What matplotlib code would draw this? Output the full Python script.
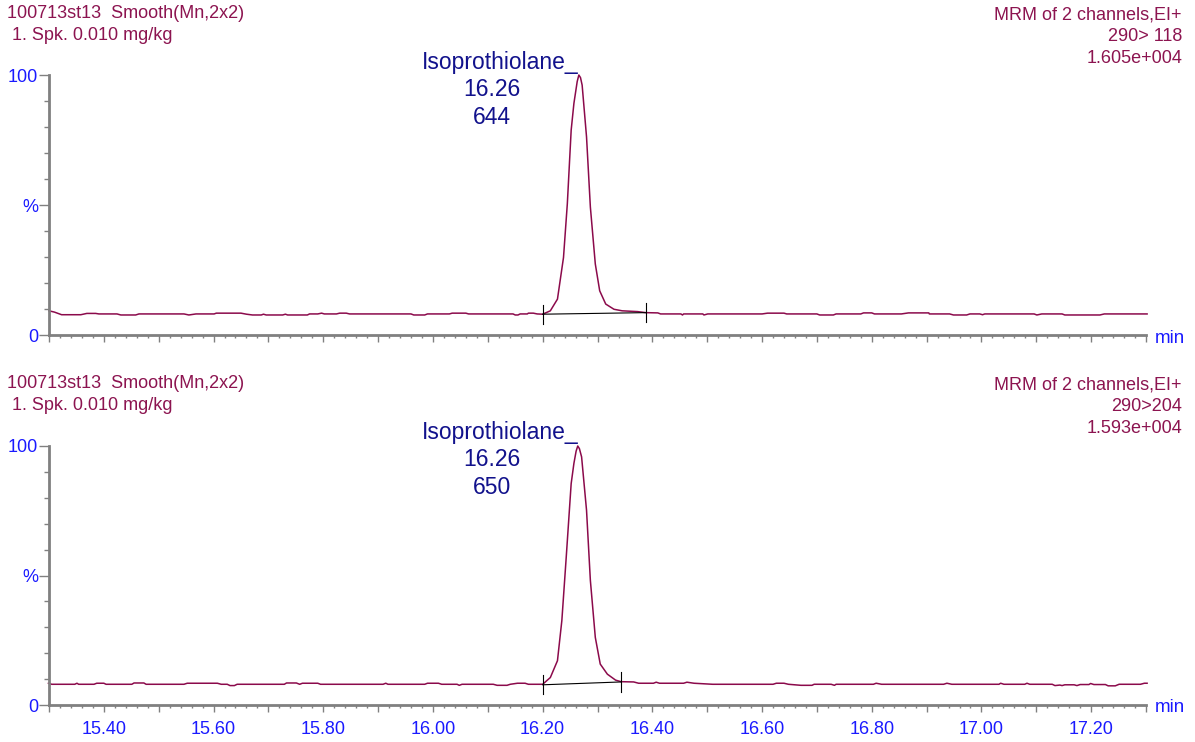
import matplotlib
matplotlib.use("Agg")
import matplotlib.pyplot as plt
from matplotlib.ticker import FixedLocator, MultipleLocator, FuncFormatter

plt.rcParams['font.family'] = ['Liberation Sans', 'DejaVu Sans']

t_118 = [15.300, 15.310, 15.323, 15.358, 15.369, 15.385, 15.391, 15.424, 15.431, 15.458,
         15.464, 15.546, 15.555, 15.568, 15.601, 15.605, 15.650, 15.660, 15.671, 15.687,
         15.691, 15.696, 15.726, 15.731, 15.735, 15.771, 15.775, 15.790, 15.797, 15.802,
         15.824, 15.830, 15.842, 15.848, 15.960, 15.965, 15.985, 15.990, 16.030, 16.035,
         16.060, 16.065, 16.146, 16.150, 16.155, 16.159, 16.172, 16.174, 16.183, 16.190,
         16.200, 16.214, 16.227, 16.238, 16.245, 16.252, 16.257, 16.263, 16.266, 16.269,
         16.272, 16.280,
         16.287, 16.296, 16.304, 16.315, 16.330, 16.345, 16.373, 16.388, 16.410, 16.415,
         16.452, 16.455, 16.457, 16.492, 16.494, 16.501, 16.600, 16.610, 16.640, 16.645,
         16.700, 16.705, 16.730, 16.735, 16.780, 16.785, 16.800, 16.805, 16.854, 16.867,
         16.904, 16.905, 16.942, 16.949, 16.973, 16.979, 16.997, 17.002, 17.006, 17.096,
         17.101, 17.110, 17.147, 17.152, 17.216, 17.224, 17.302]
i_118 = [9.3, 8.8, 7.8, 7.8, 8.3, 8.3, 8.1, 8.1, 7.7, 7.7,
         8.1, 8.1, 7.7, 8.1, 8.1, 8.4, 8.4, 8.0, 7.7, 7.7,
         8.0, 7.7, 7.7, 8.0, 7.7, 7.7, 8.1, 8.1, 8.4, 8.1,
         8.1, 8.4, 8.4, 8.1, 8.1, 7.7, 7.7, 8.1, 8.1, 8.4,
         8.4, 8.1, 8.1, 7.7, 7.7, 8.1, 8.1, 8.4, 8.4, 8.1,
         8.0, 9.3, 13.8, 29.8, 50.5, 78.8, 89.1, 97.5, 100.0, 99.0,
         96.1, 76.2,
         49.2, 27.3, 17.0, 11.9, 9.9, 9.3, 9.0, 8.6, 8.5, 8.1,
         8.1, 7.7, 8.1, 8.1, 7.7, 8.1, 8.1, 8.4, 8.4, 8.1,
         8.1, 7.7, 7.7, 8.1, 8.1, 8.5, 8.5, 8.1, 8.1, 8.5,
         8.5, 8.1, 8.1, 7.7, 7.7, 8.1, 8.1, 7.8, 8.1, 8.1,
         7.7, 8.1, 8.1, 7.7, 7.7, 8.1, 8.1]

t_204 = [15.299, 15.305, 15.347, 15.351, 15.354, 15.382, 15.387, 15.400, 15.404, 15.451,
         15.455, 15.473, 15.477, 15.546, 15.552, 15.607, 15.614, 15.625, 15.630, 15.638,
         15.643, 15.729, 15.733, 15.751, 15.757, 15.762, 15.790, 15.795, 15.909, 15.914,
         15.918, 15.985, 15.990, 16.010, 16.016, 16.044, 16.048, 16.053, 16.110, 16.117,
         16.135, 16.141, 16.154, 16.168, 16.174, 16.200, 16.214, 16.227, 16.235, 16.243,
         16.252, 16.257, 16.261, 16.264, 16.267, 16.271, 16.280, 16.287, 16.296, 16.305,
         16.318, 16.333,
         16.343, 16.366, 16.375, 16.402, 16.407, 16.413, 16.457, 16.463, 16.476, 16.510,
         16.620, 16.626, 16.640, 16.648, 16.671, 16.691, 16.695, 16.726, 16.732, 16.735,
         16.803, 16.808, 16.818, 16.931, 16.937, 16.946, 17.032, 17.035, 17.041, 17.079,
         17.083, 17.088, 17.129, 17.134, 17.143, 17.147, 17.152, 17.169, 17.174, 17.180,
         17.196, 17.199, 17.205, 17.226, 17.231, 17.244, 17.251, 17.290, 17.297, 17.302]
i_204 = [8.4, 8.0, 8.0, 8.4, 8.0, 8.0, 8.4, 8.4, 8.0, 8.0,
         8.5, 8.5, 8.0, 8.0, 8.4, 8.4, 8.0, 8.0, 7.5, 7.5,
         8.0, 8.0, 8.5, 8.5, 8.0, 8.4, 8.4, 8.0, 8.0, 8.4,
         8.0, 8.0, 8.4, 8.4, 8.0, 8.0, 7.6, 8.0, 8.0, 7.6,
         7.6, 8.0, 8.4, 8.4, 8.0, 8.0, 10.6, 17.1, 32.6, 57.1,
         85.5, 93.3, 98.0, 100.0, 99.0, 95.8, 75.2, 48.1, 26.1, 15.8,
         11.9, 9.6,
         9.0, 8.9, 8.4, 8.4, 8.8, 8.4, 8.4, 8.8, 8.4, 8.0,
         8.0, 8.4, 8.4, 8.0, 7.6, 7.6, 8.0, 8.0, 7.6, 8.0,
         8.0, 8.4, 8.0, 8.0, 8.4, 8.0, 8.0, 8.4, 8.0, 8.0,
         8.4, 8.0, 8.0, 7.5, 7.7, 7.5, 7.8, 7.8, 7.5, 7.9,
         7.9, 8.3, 7.9, 7.9, 7.4, 7.4, 8.0, 8.0, 8.4, 8.4]

# limites de integracion (tiempo, nivel de linea base)
integ_118 = [(16.200, 8.0), (16.388, 8.6)]
integ_204 = [(16.200, 7.8), (16.343, 8.9)]

cabecera_izq = ["100713st13  Smooth(Mn,2x2)", " 1. Spk. 0.010 mg/kg"]
cabecera_118 = ["MRM of 2 channels,EI+", "290> 118", "1.605e+004"]
cabecera_204 = ["MRM of 2 channels,EI+", "290>204", "1.593e+004"]
compuesto = "Isoprothiolane_"
tr_118, area_118 = "16.26", "644"
tr_204, area_204 = "16.26", "650"

x_ticks = [15.3 + 0.1 * k for k in range(21)]

W, H = 1195, 742
COL_TRAZA = '#8b0a4b'
COL_TEXTO = '#8c1450'
COL_AZUL = '#1a1aff'
COL_NAVY = '#12128c'
GRIS = '#808080'


def fy(py):
    return 1 - py / H


def panel(ax, t, inten, integ, cab_der, tr, area, dy, etiquetas_x):
    ax.plot(t, inten, color=COL_TRAZA, lw=1.1, clip_on=False)
    # linea base de integracion y marcas
    (t0, b0), (t1, b1) = integ
    ax.plot([t0, t1], [b0, b1], color='black', lw=0.8)
    for tt, bb in integ:
        ax.plot([tt, tt], [bb - 3.7, bb + 3.7], color='black', lw=0.8)
    ax.set_xlim(15.3, 17.3)
    ax.set_ylim(0, 100)
    for s in ['top', 'right']:
        ax.spines[s].set_visible(False)
    for s in ['left', 'bottom']:
        ax.spines[s].set_color(GRIS)
        ax.spines[s].set_linewidth(2)
    ax.xaxis.set_major_locator(FixedLocator(x_ticks))
    ax.xaxis.set_minor_locator(MultipleLocator(0.02))
    if etiquetas_x:
        ax.xaxis.set_major_formatter(FuncFormatter(
            lambda v, p: "%.2f" % v if round(v * 10) % 2 == 0 and 15.35 < v < 17.25 else ""))
    else:
        ax.set_xticklabels([])
    ax.yaxis.set_major_locator(FixedLocator([0, 50, 100]))
    ax.set_yticklabels(["0", "%", "100"])
    ax.yaxis.set_minor_locator(FixedLocator([10, 20, 30, 40, 60, 70, 80, 90]))
    ax.tick_params(axis='x', which='major', length=5, width=1, color=GRIS,
                   labelcolor=COL_AZUL, labelsize=13, pad=6.5)
    ax.tick_params(axis='x', which='minor', length=2.5, width=1, color=GRIS)
    ax.tick_params(axis='y', which='major', length=7.5, width=1, color=GRIS,
                   labelcolor=COL_AZUL, labelsize=13, pad=0.5)
    ax.tick_params(axis='y', which='minor', length=3.8, width=1, color=GRIS)

    # cabeceras
    fig.text(7 / W, fy(14 + dy), cabecera_izq[0], color=COL_TEXTO, fontsize=13, va='center')
    fig.text(7 / W, fy(36 + dy), cabecera_izq[1], color=COL_TEXTO, fontsize=13, va='center')
    for k, linea in enumerate(cab_der):
        fig.text(1182 / W, fy(15 + 21.7 * k + dy), linea, color=COL_TEXTO,
                 fontsize=13, va='center', ha='right')
    fig.text(1170 / W, fy(338 + dy), "min", color=COL_AZUL, fontsize=13.5,
             va='center', ha='center')
    # etiqueta del pico
    fig.text(500 / W, fy(63 + dy), compuesto, color=COL_NAVY, fontsize=16.5,
             va='center', ha='center')
    fig.text(492 / W, fy(90 + dy), tr, color=COL_NAVY, fontsize=16.5,
             va='center', ha='center')
    fig.text(492 / W, fy(117 + dy), area, color=COL_NAVY, fontsize=16.5,
             va='center', ha='center')


fig = plt.figure(figsize=(W / 100, H / 100), dpi=100)
ax1 = fig.add_axes([49 / W, fy(335), (1146 - 49) / W, (335 - 75) / H])
ax2 = fig.add_axes([49 / W, fy(705), (1146 - 49) / W, (705 - 446) / H])

panel(ax1, t_118, i_118, integ_118, cabecera_118, tr_118, area_118, 0, False)
panel(ax2, t_204, i_204, integ_204, cabecera_204, tr_204, area_204, 370, True)

plt.savefig("out.png", dpi=100)
